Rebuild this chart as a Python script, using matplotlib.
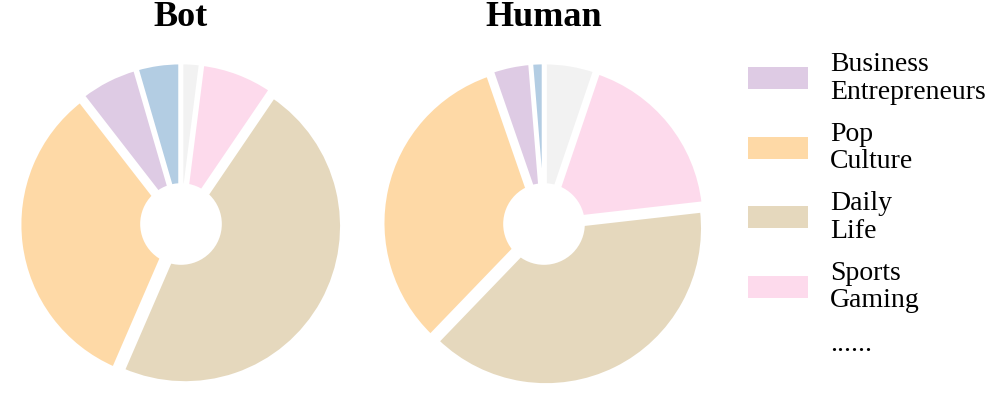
import matplotlib
matplotlib.use('Agg')
import matplotlib.pyplot as plt
from matplotlib.patches import Patch, Circle

plt.rcParams['font.family'] = ['Liberation Serif', 'DejaVu Serif']

# topic shares (%) - order counter-clockwise from 12 o'clock
topics = ['Science\nTechnology', 'Business\nEntrepreneurs', 'Pop\nCulture',
          'Daily\nLife', 'Sports\nGaming', 'Others']
bot = [4.5, 6.0, 33.0, 47.0, 7.5, 2.0]
human = [1.3, 4.0, 32.5, 39.0, 18.0, 5.2]
colors = ['#b3cde3', '#decbe4', '#fed9a6', '#e5d8bd', '#fddaec', '#f2f2f2']
legend_idx = [1, 2, 3, 4]

W, H = 997, 404
fig = plt.figure(figsize=(W / 100, H / 100), dpi=100)

R = 157  # pixel radius of the pies
size = 2.2 * R
for cx, vals, title in [(181, bot, 'Bot'), (544, human, 'Human')]:
    ax = fig.add_axes([(cx - size / 2) / W, (H - 224 - size / 2) / H, size / W, size / H])
    ax.pie(vals, colors=colors, startangle=90, counterclock=True,
           explode=[0.03] * len(vals),
           wedgeprops=dict(edgecolor='white', linewidth=3))
    ax.add_patch(Circle((0, 0), 0.26, facecolor='white', edgecolor='none', zorder=5))
    ax.set_xlim(-1.1, 1.1)
    ax.set_ylim(-1.1, 1.1)
    ax.set_aspect('equal')
    ax.axis('off')
    ax.set_title(title, fontsize=26, fontweight='bold', pad=18)

handles = [Patch(facecolor=colors[i], edgecolor='none') for i in legend_idx]
labels = [topics[i] for i in legend_idx]
handles.append(Patch(facecolor='none', edgecolor='none'))
labels.append('......')
leg = fig.legend(handles, labels, loc='upper left', bbox_to_anchor=(748 / W, 1 - 52 / H),
                 frameon=False, fontsize=20, handlelength=2.15, handleheight=0.83,
                 handletextpad=0.8, labelspacing=0.6, borderpad=0, borderaxespad=0)
for t in leg.get_texts():
    t.set_linespacing(1.15)

fig.savefig('out.png', dpi=100)
